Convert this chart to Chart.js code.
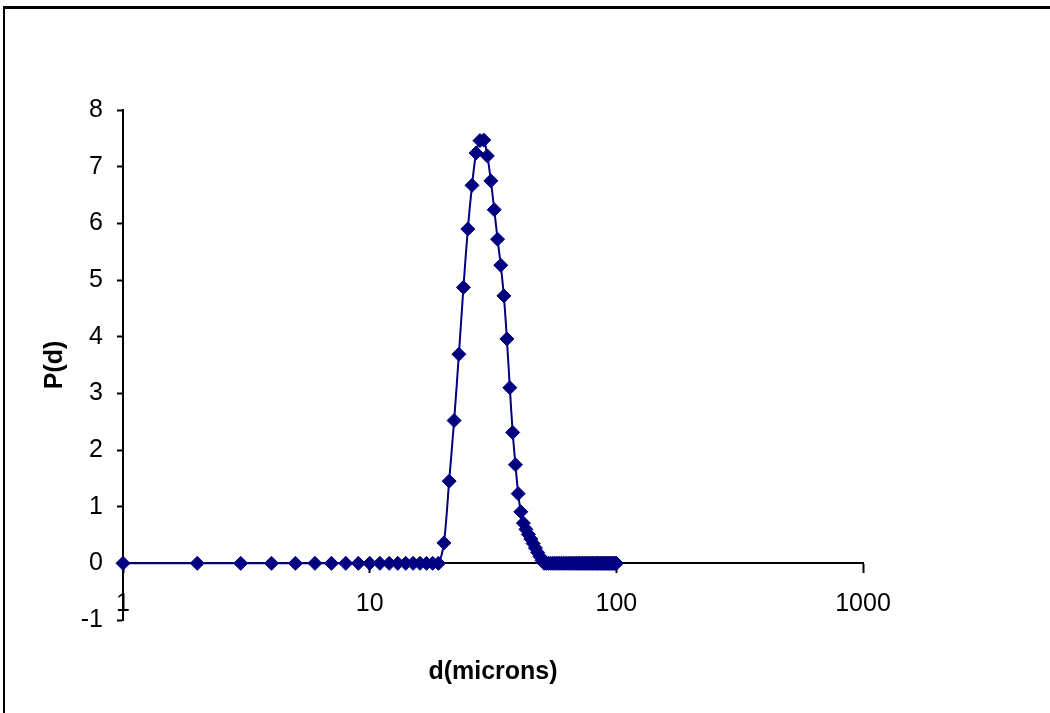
<!DOCTYPE html>
<html>
<head>
<meta charset="utf-8">
<script src="https://cdn.jsdelivr.net/npm/chart.js@4/dist/chart.umd.min.js"></script>
<style>
  html, body { margin: 0; padding: 0; background: #fff; overflow: hidden; }
  #wrap { position: relative; width: 1050px; height: 713px; }
  #frame {
    position: absolute; left: 3px; top: 6px; width: 1100px; height: 800px;
    border-top: 3px solid #000; border-left: 2px solid #000; pointer-events: none;
  }
</style>
</head>
<body>
<div id="wrap">
  <canvas id="myChart" width="1050" height="713"></canvas>
  <div id="frame"></div>
</div>
<script>
// Distribuição de tamanho de partículas P(d)
const diameters = [
  1, 2, 3, 4, 5, 6, 7, 8, 9, 10,
  11, 12, 13, 14, 15, 16, 17, 18, 19, 20,
  21, 22, 23, 24, 25, 26, 27, 28, 29, 30,
  31, 32, 33, 34, 35, 36, 37, 38, 39, 40,
  41, 42, 43, 44, 45, 46, 47, 48, 49, 50,
  51, 52, 53, 54, 55, 56, 57, 58, 59, 60,
  61, 62, 63, 64, 65, 66, 67, 68, 69, 70,
  71, 72, 73, 74, 75, 76, 77, 78, 79, 80,
  81, 82, 83, 84, 85, 86, 87, 88, 89, 90,
  91, 92, 93, 94, 95, 96, 97, 98, 99, 100
];
const probability = [
  0, 0, 0, 0, 0, 0, 0, 0, 0, 0,
  0, 0, 0, 0, 0, 0, 0, 0, 0, 0.36,
  1.45, 2.52, 3.69, 4.87, 5.90, 6.67, 7.24, 7.46, 7.47, 7.19,
  6.75, 6.24, 5.72, 5.26, 4.72, 3.96, 3.10, 2.31, 1.74, 1.23,
  0.91, 0.71, 0.60, 0.51, 0.43, 0.35, 0.27, 0.19, 0.12, 0.05,
  0, 0, 0, 0, 0, 0, 0, 0, 0, 0,
  0, 0, 0, 0, 0, 0, 0, 0, 0, 0,
  0, 0, 0, 0, 0, 0, 0, 0, 0, 0,
  0, 0, 0, 0, 0, 0, 0, 0, 0, 0,
  0, 0, 0, 0, 0, 0, 0, 0, 0, 0
];
const xTicks = [1, 10, 100, 1000];
const yTicks = [-1, 0, 1, 2, 3, 4, 5, 6, 7, 8];

const FONT = "'Liberation Sans', Arial, sans-serif";
const NAVY = '#000080';

const points = diameters.map((d, i) => ({ x: d, y: probability[i] }));

const ctx = document.getElementById('myChart').getContext('2d');
const myChart = new Chart(ctx, {
    type: 'scatter',
    data: {
        datasets: [{
            label: 'P(d)',
            data: points,
            showLine: true,
            borderColor: NAVY,
            borderWidth: 2,
            tension: 0.3,
            pointStyle: 'rectRot',
            pointRadius: 7,
            pointBackgroundColor: NAVY,
            pointBorderColor: NAVY,
            pointBorderWidth: 1,
            clip: false
        }]
    },
    options: {
        responsive: false,
        animation: false,
        layout: { padding: { left: 36, top: 110, right: 187, bottom: 93 } },
        plugins: {
            legend: { display: false },
            tooltip: { enabled: false }
        },
        scales: {
            x: {
                type: 'logarithmic',
                min: 1,
                max: 1000,
                position: { y: 0 },
                afterBuildTicks: s => { s.ticks = xTicks.map(v => ({ value: v })); },
                ticks: {
                    callback: v => String(v),
                    color: '#000',
                    font: { family: FONT, size: 25 },
                    padding: 17,
                    maxRotation: 0,
                    autoSkip: false
                },
                grid: { drawOnChartArea: false, drawTicks: true, tickLength: 9, tickColor: '#000', tickWidth: 2 },
                border: { display: true, color: '#000', width: 2 },
                title: {
                    display: true,
                    text: 'd(microns)',
                    color: '#000',
                    font: { family: FONT, size: 25, weight: 'bold' },
                    padding: { top: 21, bottom: 4 }
                }
            },
            y: {
                type: 'linear',
                min: -1,
                max: 8,
                afterBuildTicks: s => { s.ticks = yTicks.map(v => ({ value: v })); },
                afterFit: s => { s.width = 87; },
                ticks: {
                    color: '#000',
                    font: { family: FONT, size: 25 },
                    padding: 14
                },
                grid: { drawOnChartArea: false, drawTicks: true, tickLength: 6, tickColor: '#000', tickWidth: 2 },
                border: { display: true, color: '#000', width: 2 },
                title: {
                    display: true,
                    text: 'P(d)',
                    color: '#000',
                    font: { family: FONT, size: 25, weight: 'bold' },
                    padding: { top: 4, bottom: 4 }
                }
            }
        }
    }
});
</script>
</body>
</html>
